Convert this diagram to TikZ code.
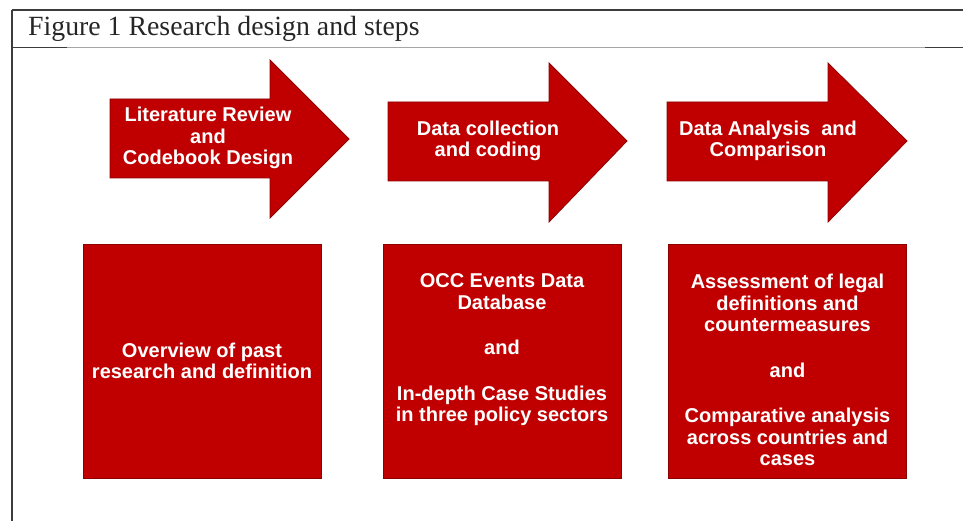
\documentclass[tikz,border=0pt]{standalone}
\usepackage{fontspec}
\setmainfont{Liberation Serif}
\newfontfamily\stepfont{Liberation Sans}
\definecolor{stepred}{RGB}{192,0,0}
\definecolor{edgered}{RGB}{140,0,0}
\definecolor{framegray}{RGB}{60,60,60}
\begin{document}
\begin{tikzpicture}[x=1pt, y=-1pt,
  steptext/.style={text=white, align=center, inner sep=0pt,
    font=\stepfont\bfseries\fontsize{20}{21.5}\selectfont},
  stepbox/.style={fill=stepred, draw=edgered, line width=0.8pt, inner sep=0pt,
    minimum width=238pt, minimum height=234pt}]
\useasboundingbox (0,0) rectangle (963,521);
% frame and title
\draw[framegray, line width=1.3pt] (12,10) -- (963,10);
\draw[framegray, line width=1.3pt] (12,10) -- (12,521);
\draw[gray!70, line width=1pt] (12,48) -- (963,48);
\draw[framegray, line width=1pt] (12,48) -- (67,48);
\draw[framegray, line width=1pt] (925,48) -- (963,48);
\node[anchor=base west, inner sep=0pt, text=black!85, font=\fontsize{27.8}{30}\selectfont] (title) at (28,36) {Figure 1 Research design and steps};
% arrows
\filldraw[fill=stepred, draw=edgered, line width=0.8pt] (110,99) -- (270,99) -- (270,60) -- (349,139) -- (270,218) -- (270,178) -- (110,178) -- cycle;
\filldraw[fill=stepred, draw=edgered, line width=0.8pt] (388,102) -- (549,102) -- (549,63) -- (627,141) -- (549,222) -- (549,181) -- (388,181) -- cycle;
\filldraw[fill=stepred, draw=edgered, line width=0.8pt] (667,102) -- (828,102) -- (828,63) -- (907,141) -- (828,222) -- (828,181) -- (667,181) -- cycle;
\node[steptext] (lit) at (208,138) {Literature Review\\and\\Codebook Design};
\node[steptext] (coll) at (488,141) {Data collection\\and coding};
\node[steptext] (anal) at (768,141) {Data Analysis~~and\\Comparison};
% boxes
\node[stepbox] (past) at (202,361) {};
\node[stepbox] (occ) at (502,361) {};
\node[stepbox] (comp) at (787.5,361) {};
\node[steptext] (pasttext) at (202,361) {Overview of past\\research and definition};
\node[steptext] (occtext) at (502,350) {OCC Events Data\\Database\\[24pt]and\\[24pt]In-depth Case Studies\\in three policy sectors};
\node[steptext] (comptext) at (787.5,370) {Assessment of legal\\definitions and\\countermeasures\\[24pt]and\\[24pt]Comparative analysis\\across countries and\\cases};
\end{tikzpicture}
\end{document}
